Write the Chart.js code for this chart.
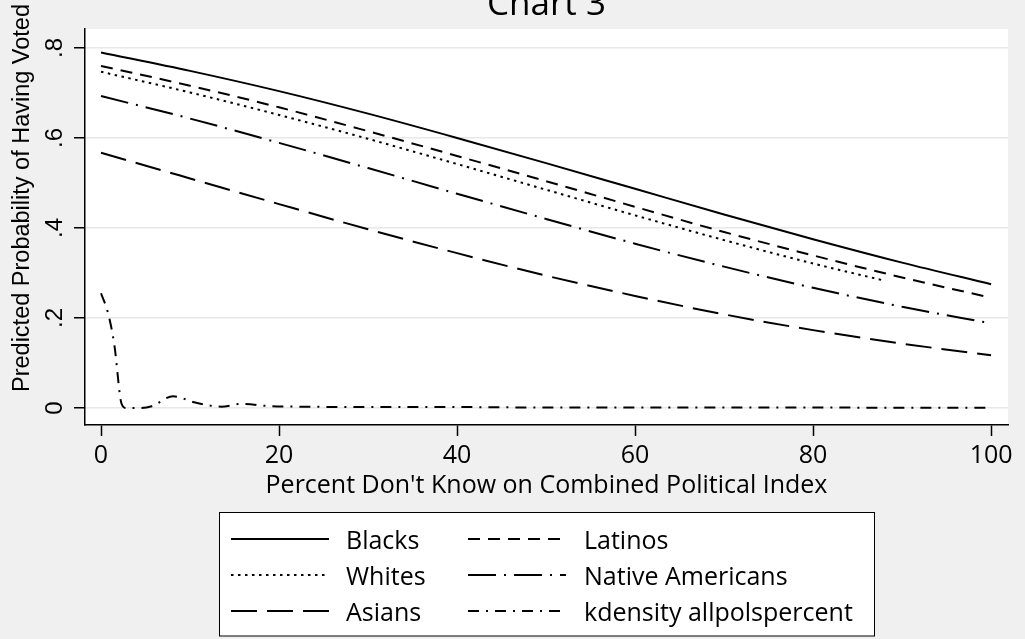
<!DOCTYPE html>
<html>
<head>
<meta charset="utf-8">
<script src="https://cdn.jsdelivr.net/npm/chart.js@4/dist/chart.umd.min.js"></script>
<style>
  html, body { margin: 0; padding: 0; background: #f0f0f0; }
  #c { display: block; }
</style>
</head>
<body>
<canvas id="c" width="1025" height="639"></canvas>
<script>
// Percent "don't know" values at which each predicted probability is given
const pctGrid = [0, 10, 20, 30, 40, 50, 60, 70, 80, 90, 100];
const whitesPct = [0, 10, 20, 30, 40, 50, 60, 70, 80, 88];

// Predicted probability of having voted, by group
const blacks = [0.790, 0.749, 0.704, 0.654, 0.600, 0.544, 0.487, 0.430, 0.375, 0.323, 0.275];
const latinos = [0.760, 0.716, 0.668, 0.615, 0.560, 0.504, 0.447, 0.391, 0.339, 0.290, 0.245];
const whites = [0.747, 0.701, 0.651, 0.598, 0.542, 0.485, 0.428, 0.373, 0.321, 0.283];
const nativeAmericans = [0.693, 0.643, 0.589, 0.533, 0.476, 0.420, 0.365, 0.314, 0.267, 0.225, 0.188];
const asians = [0.567, 0.510, 0.453, 0.397, 0.344, 0.294, 0.249, 0.208, 0.173, 0.143, 0.117];

// Kernel density of allpolspercent
const kdensityPct = [0, 0.8, 1.5, 2.3, 2.8, 4.5, 5.7, 8.1, 10.6, 13.5, 15.8, 19, 22, 30, 40, 50, 60, 70, 80, 90, 100];
const kdensity = [0.255, 0.21, 0.14, 0.01, 0, 0, 0.004, 0.026, 0.012, 0.003, 0.009, 0.004, 0.003, 0.002, 0.002, 0.001, 0.001, 0.001, 0.001, 0.0005, 0.0005];

const seriesLabels = ['Blacks', 'Latinos', 'Whites', 'Native Americans', 'Asians', 'kdensity allpolspercent'];
const xTickValues = [0, 20, 40, 60, 80, 100];
const yTickValues = [0, 0.2, 0.4, 0.6, 0.8];

const chartTitle = 'Chart 3';
const xTitle = "Percent Don't Know on Combined Political Index";
const yTitle = 'Predicted Probability of Having Voted';

const toPoints = (xs, ys) => xs.map((x, i) => ({ x: x, y: ys[i] }));

const seriesData = [
  toPoints(pctGrid, blacks),
  toPoints(pctGrid, latinos),
  toPoints(whitesPct, whites),
  toPoints(pctGrid, nativeAmericans),
  toPoints(pctGrid, asians),
  toPoints(kdensityPct, kdensity)
];
const dashes = [[], [12, 8], [2.5, 4.5], [28, 8, 2, 8], [26, 10], [11, 7, 2, 7]];

const datasets = seriesData.map((d, i) => ({
  label: seriesLabels[i],
  data: d,
  borderColor: '#000',
  borderWidth: 2,
  borderDash: dashes[i],
  pointRadius: 0,
  fill: false,
  cubicInterpolationMode: 'monotone'
}));

const sansLabel = '"Open Sans", "DejaVu Sans", sans-serif';
const sansAxis = '"Liberation Sans", Arial, sans-serif';

// Plot background, titles and the boxed two-column key
const decorations = {
  id: 'decorations',
  beforeDraw(chart) {
    const { ctx, chartArea: a } = chart;
    ctx.save();
    ctx.fillStyle = '#f0f0f0';
    ctx.fillRect(0, 0, chart.width, chart.height);
    ctx.fillStyle = '#ffffff';
    ctx.fillRect(a.left, a.top, a.right - a.left, a.bottom - a.top);
    ctx.restore();
  },
  afterDraw(chart) {
    const { ctx, chartArea: a } = chart;
    const midX = (a.left + a.right) / 2;
    ctx.save();
    ctx.fillStyle = '#000';

    // main title
    ctx.font = '35px ' + sansLabel;
    ctx.textAlign = 'center';
    ctx.textBaseline = 'alphabetic';
    ctx.fillText(chartTitle, midX, 15);

    // x-axis title
    ctx.font = '25px ' + sansLabel;
    ctx.fillText(xTitle, midX, 493);

    // y-axis title
    ctx.save();
    ctx.translate(29, 198);
    ctx.rotate(-Math.PI / 2);
    ctx.font = '23.5px ' + sansAxis;
    ctx.fillText(yTitle, 0, 0);
    ctx.restore();

    // key
    const box = { left: 219.5, top: 512.5, right: 874.5, bottom: 636 };
    ctx.fillStyle = '#ffffff';
    ctx.fillRect(box.left, box.top, box.right - box.left, box.bottom - box.top);
    ctx.strokeStyle = '#000';
    ctx.lineWidth = 1;
    ctx.strokeRect(box.left, box.top, box.right - box.left, box.bottom - box.top);

    const sampleX = [231, 468];
    const textX = [346, 584];
    ctx.font = '25px ' + sansLabel;
    ctx.textAlign = 'left';
    chart.data.datasets.forEach((ds, i) => {
      const col = i % 2, row = Math.floor(i / 2);
      const base = 549 + row * 36;
      ctx.save();
      ctx.strokeStyle = ds.borderColor;
      ctx.lineWidth = ds.borderWidth;
      ctx.setLineDash(ds.borderDash || []);
      ctx.beginPath();
      ctx.moveTo(sampleX[col], base - 10);
      ctx.lineTo(sampleX[col] + 98, base - 10);
      ctx.stroke();
      ctx.restore();
      ctx.fillStyle = '#000';
      ctx.fillText(ds.label, textX[col], base);
    });
    ctx.restore();
  }
};

new Chart(document.getElementById('c'), {
  type: 'line',
  data: { datasets: datasets },
  options: {
    responsive: false,
    animation: false,
    devicePixelRatio: 1,
    layout: { padding: { left: 0, right: 17, top: 29, bottom: 144 } },
    plugins: { legend: { display: false }, tooltip: { enabled: false }, title: { display: false } },
    scales: {
      x: {
        type: 'linear',
        min: -1.8,
        max: 101.9,
        afterBuildTicks: s => { s.ticks = xTickValues.map(v => ({ value: v })); },
        afterFit: s => { s.height = 70; },
        ticks: {
          color: '#000',
          font: { family: sansLabel, size: 25 },
          padding: 5,
          maxRotation: 0,
          autoSkip: false,
          callback: v => String(v)
        },
        grid: { drawOnChartArea: false, drawTicks: true, tickLength: 11, tickColor: '#000', tickWidth: 1.5 },
        border: { display: true, color: '#000', width: 1.5 }
      },
      y: {
        type: 'linear',
        min: -0.0378,
        max: 0.842,
        afterBuildTicks: s => { s.ticks = yTickValues.map(v => ({ value: v })); },
        afterFit: s => { s.width = 85; },
        ticks: {
          color: '#000',
          font: { family: sansAxis, size: 24 },
          minRotation: 90,
          maxRotation: 90,
          crossAlign: 'center',
          padding: 9,
          autoSkip: false,
          callback: v => (v === 0 ? '0' : String(v).replace(/^0/, ''))
        },
        grid: { color: '#e8e8e8', lineWidth: 1.5, drawTicks: true, tickLength: 11, tickColor: '#000', tickWidth: 1.5 },
        border: { display: true, color: '#000', width: 1.5 }
      }
    }
  },
  plugins: [decorations]
});
</script>
</body>
</html>
